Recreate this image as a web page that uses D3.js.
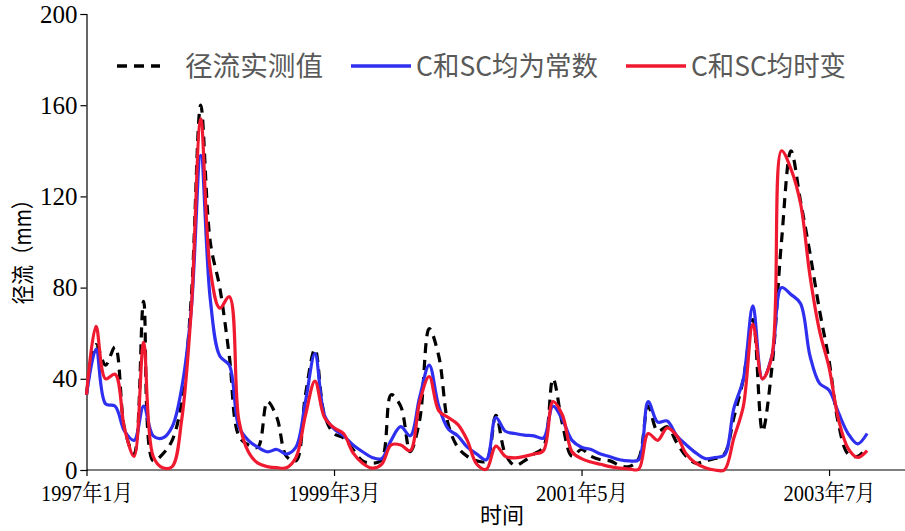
<!DOCTYPE html>
<html><head><meta charset="utf-8">
<script src="https://cdn.jsdelivr.net/npm/d3@7"></script>
<style>body{margin:0;background:#fff}</style>
</head><body>
<svg id="chart" width="905" height="531"></svg>
<script>
// ---- data (monthly, 1997-01 .. 2003-11) ----
const startYear = 1997;
const months = [];
for (let k = 0; k < 83; k++) {
  const yr = startYear + Math.floor(k / 12), mo = (k % 12) + 1;
  months.push(yr + "-" + String(mo).padStart(2, "0"));
}
const observed = [33,55,46,54,18,7,74,4,7,13,30,75,160,100,80,50,15,11,10,30,23,6,4,33,53,24,16,14,9,4,3,4.5,33,28,8,22,62,50,20,10,6,4,4,24,7,2,4,7,10,40,20,6,9,6,4.5,4,2,1.5,5,28,17,19,12,6,3,4,5,7,23,40,66,17,45,100,140,118,95,70,48,20,7,6,10];
const constantCSC = [33,53,29,28,17,13,28,15,14,19,36,70,138,75,50,46,19,13,10,8,9,7,10,30,51,24,18,15,11,8,5.5,5,13,19,15,32,46,28,18,15,10,7,4.5,23,17,16,15.3,15,14,28,22,13,10,9,7,5.8,4.5,4,4.5,30,21,21.5,15,11,7.5,5,5.5,6.5,27,40,72,40,50,80,77,73,50,38,35,25,16,11.5,16];
const timeVaryingCSC = [33,63,40,42,18,6,56,6,1,1.5,22,70,154,88,71,76,22,8,3,1.5,1,1,5.5,24,39,23,18.5,16,7.5,3,0.8,2.5,11,11,8.5,30,41,26,23,20,13,2.5,0.3,10.5,6,5.3,6,7,8.5,30,24,8,5,3.5,2.5,1.5,0.8,0.5,0.3,16,13,18.5,15,7,3,1,0,0,14,28,64,40,50,140,132,117,85,61,45,22,9.5,5.5,8.5];
const seriesNames = ["径流实测值", "C和SC均为常数", "C和SC均时变"];
const yTicks = [0, 40, 80, 120, 160, 200];
const xTickMonths = ["1997-01", "1999-03", "2001-05", "2003-07"];
const xTickLabels = ["1997年1月", "1999年3月", "2001年5月", "2003年7月"];

// ---- layout ----
const svg = d3.select("#chart");
const plotLeft = 86.5, plotTop = 14, plotBottom = 470, step = 9.52;
const x = d3.scalePoint().domain(months).range([plotLeft, plotLeft + step * (months.length - 1)]);
const y = d3.scaleLinear().domain([0, 200]).range([plotBottom, plotTop]);

// y axis
const yAxis = svg.append("g").attr("transform", `translate(${plotLeft},0)`)
  .call(d3.axisLeft(y).tickValues(yTicks).tickSize(6).tickPadding(3));
yAxis.select(".domain").attr("stroke", "#000").attr("stroke-width", 1.2);
yAxis.selectAll(".tick line").attr("stroke", "#000").attr("stroke-width", 1.2);
yAxis.selectAll("text").style("font-family", "'Liberation Serif','Times New Roman',serif")
  .attr("font-size", 25).attr("fill", "#000");

// x axis
const xAxis = svg.append("g").attr("transform", `translate(0,${plotBottom})`)
  .call(d3.axisBottom(x).tickValues(xTickMonths).tickSize(6).tickPadding(9)
    .tickFormat(d => xTickLabels[xTickMonths.indexOf(d)]));
xAxis.select(".domain").remove();
xAxis.selectAll(".tick line").attr("stroke", "#000").attr("stroke-width", 1.2);
xAxis.selectAll("text").style("font-family", "'Liberation Serif','Noto Serif CJK SC','Noto Sans CJK SC',serif")
  .attr("font-size", 23).attr("fill", "#000")
  .attr("textLength", 92).attr("lengthAdjust", "spacingAndGlyphs");
svg.append("line").attr("x1", plotLeft).attr("x2", 905).attr("y1", plotBottom).attr("y2", plotBottom)
  .attr("stroke", "#000").attr("stroke-width", 1.2);

// axis titles
svg.append("text").attr("x", 502).attr("y", 523).attr("text-anchor", "middle")
  .attr("font-family", "'Noto Sans CJK SC',sans-serif").attr("font-size", 22).attr("fill", "#000")
  .text("时间");
svg.append("text").attr("transform", "translate(31,247) rotate(-90)").attr("text-anchor", "middle")
  .attr("font-family", "'Noto Sans CJK SC',sans-serif").attr("font-size", 23).attr("fill", "#000")
  .attr("textLength", 115).attr("lengthAdjust", "spacingAndGlyphs")
  .text("径流（mm）");

// lines
const styles = [
  {data: observed, color: "#000000", dash: "10,7", width: 3.2},
  {data: constantCSC, color: "#2F2FF0", dash: null, width: 3.2},
  {data: timeVaryingCSC, color: "#F01A30", dash: null, width: 3.2}
];
const line = d3.line().x((d, i) => x(months[i])).y(d => y(d)).curve(d3.curveCatmullRom.alpha(0.5));
styles.forEach(s => {
  svg.append("path").datum(s.data).attr("d", line).attr("fill", "none")
    .attr("stroke", s.color).attr("stroke-width", s.width)
    .attr("stroke-dasharray", s.dash).attr("stroke-linejoin", "round");
});

// legend
const legend = [
  {x1: 117, x2: 160, tx: 185, tl: 138},
  {x1: 351, x2: 411, tx: 416, tl: 182},
  {x1: 626, x2: 686, tx: 691, tl: 155}
];
legend.forEach((l, i) => {
  svg.append("line").attr("x1", l.x1).attr("x2", l.x2).attr("y1", 66).attr("y2", 66)
    .attr("stroke", styles[i].color).attr("stroke-width", 3.5)
    .attr("stroke-dasharray", styles[i].dash);
  svg.append("text").attr("x", l.tx).attr("y", 76)
    .attr("font-family", "'Noto Sans CJK SC',sans-serif").attr("font-size", 27).attr("fill", "#595959")
    .attr("textLength", l.tl).attr("lengthAdjust", "spacingAndGlyphs")
    .text(seriesNames[i]);
});
</script>
</body></html>
